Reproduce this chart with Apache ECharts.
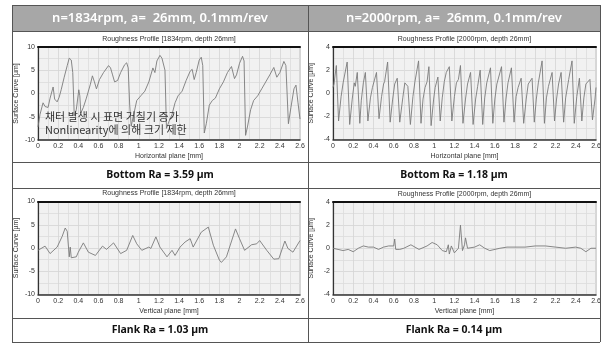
<!DOCTYPE html>
<html><head><meta charset="utf-8">
<script src="https://cdn.jsdelivr.net/npm/echarts@6/dist/echarts.min.js"></script>
<style>html,body{margin:0;padding:0;background:#fff}#c{width:606px;height:343px}</style>
</head><body><div id="c"></div>
<script>
// ---- data ----
const headers = ['n=1834rpm, a=  26mm, 0.1mm/rev', 'n=2000rpm, a=  26mm, 0.1mm/rev'];
const plotTitles = ['Roughness Profile [1834rpm, depth 26mm]', 'Roughness Profile [2000rpm, depth 26mm]',
                    'Roughness Profile [1834rpm, depth 26mm]', 'Roughness Profile [2000rpm, depth 26mm]'];
const xNames = ['Horizontal plane [mm]', 'Horizontal plane [mm]', 'Vertical plane [mm]', 'Vertical plane [mm]'];
const yName = 'Surface Curve [µm]';
const raLabels = ['Bottom Ra = 3.59 µm', 'Bottom Ra = 1.18 µm', 'Flank Ra = 1.03 µm', 'Flank Ra = 0.14 µm'];
const noteLines = ['채터 발생 시 표면 거칠기 증가', 'Nonlinearity에 의해 크기 제한'];
const yRanges = [[-10, 10, 5], [-4, 4, 2], [-10, 10, 5], [-4, 4, 2]];

const bottom1834 = [[0.00,-7.2],[0.02,-4.5],[0.05,-2.0],[0.06,-1.6],[0.07,-2.8],[0.10,-3.0],[0.12,-1.0],[0.15,1.4],[0.165,-1.2],[0.19,-1.8],[0.21,-0.8],[0.23,0.8],[0.26,3.5],[0.29,6.0],[0.31,7.6],[0.33,7.2],[0.345,4.5],[0.36,-4.8],[0.38,-3.5],[0.405,0.8],[0.415,-0.5],[0.425,-4.2],[0.45,-3.0],[0.48,-1.0],[0.52,2.0],[0.54,3.8],[0.56,2.5],[0.58,1.0],[0.61,3.0],[0.65,4.5],[0.70,6.0],[0.72,5.5],[0.74,4.0],[0.76,2.5],[0.79,2.8],[0.82,4.5],[0.86,6.2],[0.88,6.6],[0.895,5.5],[0.91,-2.5],[0.925,-7.0],[0.95,-4.5],[0.98,-1.5],[1.02,-0.5],[1.06,0.5],[1.10,2.5],[1.14,5.5],[1.16,4.5],[1.18,7.0],[1.21,8.2],[1.23,7.6],[1.245,8.0],[1.26,5.0],[1.275,-7.5],[1.30,-6.0],[1.33,-4.5],[1.36,-2.0],[1.39,-0.5],[1.43,0.5],[1.47,2.8],[1.51,4.8],[1.53,5.2],[1.55,3.0],[1.57,4.5],[1.60,7.2],[1.62,7.8],[1.635,6.0],[1.65,-8.5],[1.67,-6.5],[1.70,-2.5],[1.73,-1.5],[1.76,-1.0],[1.80,1.0],[1.84,2.5],[1.88,4.5],[1.92,5.8],[1.95,3.2],[1.97,4.0],[2.00,6.5],[2.03,8.0],[2.045,7.0],[2.06,-9.0],[2.08,-7.0],[2.11,-3.5],[2.14,-1.5],[2.18,-0.5],[2.22,1.0],[2.26,2.5],[2.30,4.0],[2.34,5.6],[2.37,3.5],[2.40,4.5],[2.44,6.9],[2.46,6.0],[2.485,-6.5],[2.51,-3.0],[2.54,1.0],[2.56,1.8],[2.58,-2.0],[2.60,-5.5]];

const bottom2000 = [[0,0.5],[0.01,0.8],[0.033,2.4],[0.055,-2.4],[0.08,-0.3],[0.1,0.9],[0.11,0.8],[0.14,2.7],[0.165,-2.7],[0.19,-0.5],[0.21,0.9],[0.22,0.6],[0.24,1.8],[0.265,-2.6],[0.28,-0.6],[0.30,0.9],[0.32,1.8],[0.345,-2.4],[0.37,-0.4],[0.39,0.5],[0.40,0.4],[0.43,1.8],[0.455,-2.2],[0.48,-0.3],[0.50,0.8],[0.51,1.0],[0.54,2.7],[0.565,-2.5],[0.59,-0.5],[0.61,0.8],[0.635,1.3],[0.66,-2.5],[0.69,-0.4],[0.71,0.9],[0.72,0.9],[0.74,0.6],[0.765,-2.7],[0.79,-0.3],[0.81,1.0],[0.846,2.8],[0.87,-2.6],[0.89,-0.5],[0.91,0.5],[0.93,1.0],[0.948,2.3],[0.97,-2.8],[0.995,-0.5],[1.01,0.5],[1.037,1.4],[1.06,-2.4],[1.08,-0.4],[1.10,1.0],[1.12,1.8],[1.15,2.3],[1.175,-2.4],[1.20,-0.3],[1.22,0.9],[1.24,1.2],[1.26,2.4],[1.285,-2.6],[1.31,-0.5],[1.33,0.8],[1.36,1.8],[1.385,-2.7],[1.41,-0.5],[1.43,0.6],[1.455,2.0],[1.48,-2.7],[1.50,-0.4],[1.52,0.9],[1.557,2.2],[1.58,-2.6],[1.60,-0.5],[1.62,0.8],[1.666,2.3],[1.69,-2.5],[1.71,-0.5],[1.73,0.9],[1.764,2.2],[1.79,-2.5],[1.81,-0.3],[1.83,0.5],[1.86,1.3],[1.885,-2.6],[1.91,-0.5],[1.93,0.8],[1.968,1.3],[1.99,-2.5],[2.01,-0.5],[2.03,0.9],[2.067,2.8],[2.09,-2.6],[2.11,-0.4],[2.13,0.6],[2.166,1.8],[2.19,-2.4],[2.21,-0.5],[2.23,0.8],[2.255,1.8],[2.28,-2.5],[2.30,-0.4],[2.33,1.2],[2.363,2.8],[2.385,-2.6],[2.41,-0.3],[2.436,1.3],[2.46,-2.4],[2.48,-0.4],[2.50,0.8],[2.54,1.2],[2.565,-2.3],[2.59,-0.5],[2.60,0.5]];

const flank1834 = [[0,-0.5],[0.07,0.4],[0.12,-1.2],[0.19,0.2],[0.24,2.5],[0.27,4.3],[0.29,3.6],[0.30,3.4],[0.31,-1.9],[0.32,0.2],[0.33,-2.1],[0.38,-1.9],[0.40,-0.9],[0.45,1.1],[0.50,-0.9],[0.57,-1.6],[0.64,0.4],[0.68,-0.3],[0.75,1.1],[0.82,-1.2],[0.88,-0.5],[0.94,2.7],[0.98,0.9],[1.03,-0.5],[1.10,0.2],[1.12,-0.1],[1.17,2.4],[1.21,0.2],[1.28,-1.9],[1.33,-0.5],[1.36,-1.6],[1.41,0.2],[1.46,1.3],[1.51,2.0],[1.54,0.2],[1.62,3.4],[1.69,4.5],[1.74,0.6],[1.80,-2.6],[1.82,-3.1],[1.87,-1.9],[1.96,4.1],[2.00,2.0],[2.05,-0.5],[2.12,0.7],[2.17,0.9],[2.20,1.6],[2.27,-0.5],[2.34,-2.4],[2.39,-2.3],[2.45,1.5],[2.48,-0.1],[2.53,-0.9],[2.60,1.6]];

const flank2000 = [[0,0.0],[0.05,-0.1],[0.10,-0.2],[0.15,-0.1],[0.20,-0.3],[0.25,0.0],[0.30,0.2],[0.35,0.1],[0.40,0.1],[0.45,-0.1],[0.50,0.1],[0.55,0.2],[0.60,0.2],[0.61,0.8],[0.62,-0.1],[0.66,-0.1],[0.70,0.0],[0.77,0.3],[0.85,-0.1],[0.93,0.2],[0.98,0.5],[1.03,0.3],[1.08,-0.2],[1.12,-0.3],[1.14,0.3],[1.15,-0.5],[1.17,0.2],[1.20,-0.4],[1.24,0.0],[1.26,2.0],[1.28,-0.2],[1.30,0.3],[1.31,0.9],[1.33,0.0],[1.40,0.1],[1.45,0.3],[1.50,0.0],[1.55,-0.2],[1.65,0.0],[1.72,0.1],[1.80,0.1],[1.90,0.1],[2.00,0.2],[2.10,0.2],[2.20,0.1],[2.30,0.0],[2.40,0.1],[2.45,0.0],[2.50,-0.3],[2.55,0.0],[2.60,0.0]];

const profiles = [bottom1834, bottom2000, flank1834, flank2000];

// ---- layout ----
const T = {left: 12, right: 600, top: 5, bottom: 342, mid: 308, rows: [31, 162, 188, 318]};
const grids = [
  {left: 38, top: 47, width: 262, height: 93},
  {left: 333, top: 47, width: 263, height: 92.5},
  {left: 38, top: 201.5, width: 262, height: 93},
  {left: 333, top: 202, width: 263, height: 92.5}
];
const FONT = 'Liberation Sans, Arial, sans-serif';

const option = {
  animation: false,
  grid: grids.map(g => Object.assign({show: true, backgroundColor: '#f1f1f1', borderColor: '#bdbdbd', borderWidth: 1}, g)),
  xAxis: [],
  yAxis: [],
  series: [],
  graphic: []
};

for (let i = 0; i < 4; i++) {
  option.xAxis.push({
    type: 'value', gridIndex: i, min: 0, max: 2.6, interval: 0.2,
    name: xNames[i], nameLocation: 'middle', nameGap: 13,
    nameTextStyle: {fontSize: 7, color: '#333', fontFamily: FONT},
    axisLine: {show: true, onZero: false, lineStyle: {color: '#333', width: 1.5}},
    axisTick: {show: false},
    axisLabel: {fontSize: 7, color: '#333', margin: 3, fontFamily: FONT},
    splitLine: {show: true, lineStyle: {color: '#d4d4d4', width: 0.8}},
    minorTick: {show: false, splitNumber: 2},
    minorSplitLine: {show: true, lineStyle: {color: '#dcdcdc', width: 0.8}}
  });
  option.xAxis.push({
    type: 'value', gridIndex: i, min: 0, max: 2.6, position: 'top',
    axisLine: {show: true, onZero: false, lineStyle: {color: '#111', width: 2}},
    axisTick: {show: false}, axisLabel: {show: false}, splitLine: {show: false}
  });
  const yr = yRanges[i];
  option.yAxis.push({
    type: 'value', gridIndex: i, min: yr[0], max: yr[1], interval: yr[2],
    name: yName, nameLocation: 'middle', nameGap: 18, nameRotate: 90,
    nameTextStyle: {fontSize: 7, color: '#333', fontFamily: FONT},
    axisLine: {show: true, onZero: false, lineStyle: {color: '#333', width: 1.2}},
    axisTick: {show: false},
    axisLabel: {fontSize: 7, color: '#333', margin: 3, fontFamily: FONT},
    splitLine: {show: true, lineStyle: {color: '#d4d4d4', width: 0.8}},
    minorTick: {show: false, splitNumber: 2},
    minorSplitLine: {show: true, lineStyle: {color: '#dcdcdc', width: 0.8}}
  });
  option.series.push({
    type: 'line', xAxisIndex: i * 2, yAxisIndex: i, data: profiles[i],
    showSymbol: false, symbol: 'none',
    lineStyle: {color: '#7a7a7a', width: 0.9}
  });
}

const G = option.graphic;
// header fill
G.push({type: 'rect', shape: {x: T.left, y: T.top, width: T.right - T.left, height: T.rows[0] - T.top},
  style: {fill: '#a7a7a7'}, z: 0, silent: true});
const colCenters = [(T.left + T.mid) / 2, (T.mid + T.right) / 2];
headers.forEach((h, i) => G.push({type: 'text', x: colCenters[i], y: 18, z: 10,
  style: {text: h, fill: '#ffffff', font: '600 13px "Noto Sans", sans-serif', align: 'center', verticalAlign: 'middle'}}));
// table lines
const lineStyle = {stroke: '#555', lineWidth: 1};
[T.top, ...T.rows, T.bottom].forEach(y => G.push({type: 'line', z: 10, shape: {x1: T.left, y1: y + 0.5, x2: T.right, y2: y + 0.5}, style: lineStyle}));
[T.left, T.mid, T.right].forEach(x => G.push({type: 'line', z: 10, shape: {x1: x + 0.5, y1: T.top, x2: x + 0.5, y2: T.bottom}, style: lineStyle}));
// plot titles
grids.forEach((g, i) => G.push({type: 'text', z: 10, x: g.left + g.width / 2, y: g.top - 8,
  style: {text: plotTitles[i], fill: '#333', font: '7px ' + FONT, align: 'center', verticalAlign: 'middle'}}));
// Ra labels
const raY = [175, 175, 330, 330];
raLabels.forEach((t, i) => G.push({type: 'text', z: 10, x: colCenters[i % 2], y: raY[i],
  style: {text: t, fill: '#111', font: 'bold 10.5px "Noto Sans", sans-serif', align: 'center', verticalAlign: 'middle'}}));
// annotation
noteLines.forEach((t, i) => G.push({type: 'text', z: 10, x: 45, y: 117 + i * 13,
  style: {text: t, fill: '#333', font: '11px "Noto Sans CJK KR", sans-serif', align: 'left', verticalAlign: 'middle'}}));

echarts.init(document.getElementById('c'), null, {renderer: 'canvas'}).setOption(option);
</script></body></html>
